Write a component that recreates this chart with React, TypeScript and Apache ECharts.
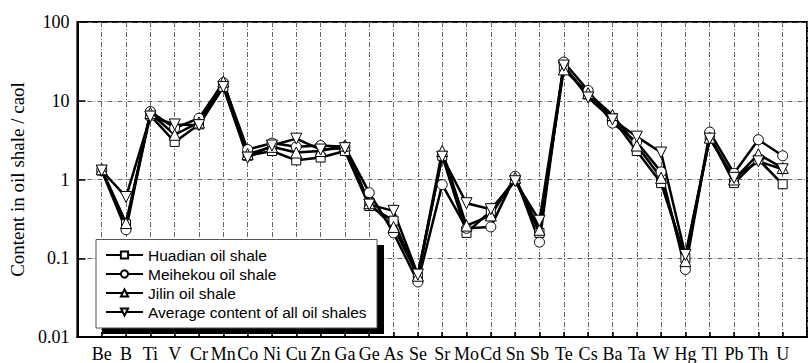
import React, { useEffect, useRef } from "react";
import * as echarts from "echarts";

const categories = ["Be", "B", "Ti", "V", "Cr", "Mn", "Co", "Ni", "Cu", "Zn", "Ga", "Ge", "As", "Se", "Sr", "Mo", "Cd", "Sn", "Sb", "Te", "Cs", "Ba", "Ta", "W", "Hg", "Tl", "Pb", "Th", "U"];

const huadian = [1.3, 0.27, 6.5, 3.0, 5.0, 15, 2.0, 2.3, 1.75, 1.9, 2.3, 0.46, 0.3, 0.058, 2.0, 0.21, 0.4, 1.0, 0.21, 27, 12, 6.0, 2.3, 0.9, 0.1, 3.6, 0.9, 1.8, 0.87];
const meihekou = [1.3, 0.23, 7.3, 4.5, 6.0, 17, 2.4, 2.9, 2.6, 2.7, 2.6, 0.68, 0.21, 0.05, 0.86, 0.24, 0.25, 1.1, 0.16, 31, 13.5, 5.2, 3.0, 1.25, 0.072, 4.0, 1.2, 3.2, 2.0];
const jilin = [1.35, 0.28, 7.0, 3.7, 5.3, 17.5, 2.1, 2.6, 2.2, 2.3, 2.7, 0.5, 0.25, 0.06, 2.3, 0.26, 0.35, 1.05, 0.23, 25, 12.5, 6.6, 2.7, 1.05, 0.092, 3.4, 1.0, 2.1, 1.4];
const average = [1.3, 0.6, 6.3, 5.0, 4.9, 15, 1.9, 2.7, 3.3, 2.4, 2.5, 0.48, 0.4, 0.062, 1.95, 0.5, 0.42, 0.95, 0.3, 28, 11, 5.8, 3.5, 2.2, 0.11, 3.3, 1.05, 1.7, 1.35];

const seriesNames = ["Huadian oil shale", "Meihekou oil shale", "Jilin oil shale", "Average content of all oil shales"];
const yAxisName = "Content in oil shale / caol";

const SERIF = "Liberation Serif";
const SANS = "Liberation Sans";

export default function App() {
  const ref = useRef<HTMLDivElement>(null);
  useEffect(() => {
    if (!ref.current) return;
    const chart = echarts.init(ref.current, null, { renderer: "svg" });
    const toPts = (arr: number[]) => arr.map((v, i) => [i + 1, v]);
    const mk = (name: string, data: number[], symbol: string, size: number) => ({
      name,
      type: "line",
      data: toPts(data),
      symbol,
      symbolSize: size,
      showAllSymbol: true,
      lineStyle: { color: "#000", width: 2.5 },
      itemStyle: { color: "#fff", borderColor: "#000", borderWidth: 1 },
      emphasis: { disabled: true },
    });
    chart.setOption({
      animation: false,
      grid: {
        left: 63,
        top: 22,
        right: -6,
        bottom: 25,
        show: true,
        borderColor: "#000",
        borderWidth: 2,
        backgroundColor: "transparent",
      },
      legend: {
        orient: "vertical",
        left: 96,
        top: 240,
        itemWidth: 37,
        itemHeight: 9,
        itemGap: 3,
        padding: [7, 10, 7, 9],
        textStyle: { fontFamily: SANS, fontSize: 15.5, color: "#000" },
        data: seriesNames,
        z: 10,
      },
      graphic: [
        {
          type: "rect",
          shape: { x: 102, y: 245, width: 282, height: 89 },
          style: { fill: "#000" },
          z: 5,
        },
        {
          type: "rect",
          shape: { x: 96, y: 239.5, width: 281, height: 88.5 },
          style: { fill: "#fff", stroke: "#555", lineWidth: 1 },
          z: 6,
        },
      ],
      xAxis: {
        type: "value",
        min: 0,
        max: 30,
        interval: 1,
        axisLine: { show: true, lineStyle: { color: "#000", width: 2 } },
        axisTick: { show: true, inside: true, length: 5, lineStyle: { color: "#000", width: 1.5 } },
        axisLabel: {
          fontFamily: SERIF,
          fontSize: 18,
          color: "#000",
          margin: 8,
          formatter: (v: number) => categories[v - 1] ?? "",
        },
        splitLine: { show: true, lineStyle: { color: "#666", width: 1, type: [5, 2, 1, 2] } },
      },
      yAxis: {
        type: "log",
        logBase: 10,
        min: 0.01,
        max: 100,
        name: yAxisName,
        nameLocation: "middle",
        nameGap: 36,
        nameTextStyle: { fontFamily: SERIF, fontSize: 19, color: "#000" },
        axisLine: { show: true, lineStyle: { color: "#000", width: 2 } },
        axisTick: { show: true, inside: true, length: 8, lineStyle: { color: "#000", width: 1.5 } },
        minorTick: { show: false },
        axisLabel: { fontFamily: SERIF, fontSize: 18, color: "#000", margin: 8 },
        splitLine: { show: true, lineStyle: { color: "#666", width: 1, type: [5, 2, 1, 2] } },
      },
      series: [
        mk(seriesNames[0], huadian, "rect", 9),
        mk(seriesNames[1], meihekou, "circle", 10),
        mk(seriesNames[2], jilin, "triangle", 11),
        mk(seriesNames[3], average, "path://M0,0L10,0L5,9Z", 11),
      ],
    });
    return () => chart.dispose();
  }, []);
  return <div ref={ref} style={{ position: "absolute", left: 0, top: 0, width: 810, height: 363 }} />;
}
